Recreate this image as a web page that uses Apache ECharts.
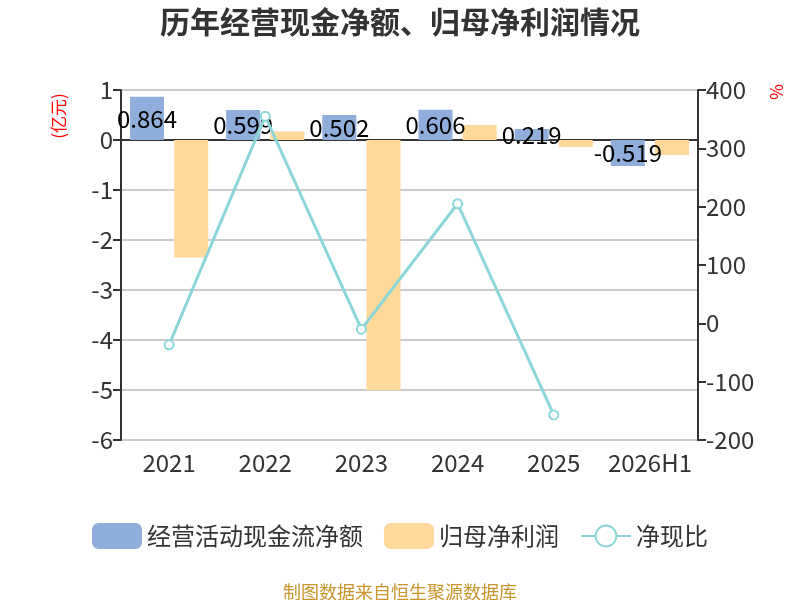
<!DOCTYPE html>
<html>
<head>
<meta charset="utf-8">
<title>历年经营现金净额、归母净利润情况</title>
<script src="https://cdn.jsdelivr.net/npm/echarts@6/dist/echarts.min.js"></script>
<style>
	html, body { margin: 0; padding: 0; background: #fff; }
	#main { width: 800px; height: 600px; }
</style>
</head>
<body>
<div id="main"></div>
<script type="text/javascript">
	// 数据
	var categories = ['2021', '2022', '2023', '2024', '2025', '2026H1'];
	var cashFlow = [0.864, 0.599, 0.502, 0.606, 0.219, -0.519];   // 经营活动现金流净额（亿元）
	var netProfit = [-2.35, 0.17, -5.0, 0.30, -0.14, -0.30];      // 归母净利润（亿元）
	var cashRatio = [-36.8, 355, -10, 205, -157, null];           // 净现比（%）
	var leftTicks = [-6, 1, 1];    // min, max, interval
	var rightTicks = [-200, 400, 100];

	var font = 'Noto Sans CJK SC';
	var myChart = echarts.init(document.getElementById('main'));
	var option = {
		textStyle : { fontFamily : font },
		title : [ {
			text : '历年经营现金净额、归母净利润情况',
			left : 'center',
			top : 2,
			textStyle : {
				fontSize : 30,
				fontWeight : 'bold',
				color : '#333'
			}
		}, {
			text : '制图数据来自恒生聚源数据库',
			left : 'center',
			top : 578,
			textStyle : {
				fontSize : 18,
				fontWeight : 'normal',
				color : '#c9952c'
			}
		} ],
		legend : {
			top : 518,
			left : 'center',
			itemWidth : 50,
			itemHeight : 26,
			itemGap : 21,
			textStyle : {
				fontSize : 24,
				color : '#333'
			},
			data : [
				{ name : '经营活动现金流净额', icon : 'roundRect' },
				{ name : '归母净利润', icon : 'roundRect' },
				{ name : '净现比' }
			]
		},
		grid : {
			left : 121,
			right : 102,
			top : 90,
			bottom : 160
		},
		graphic : [ {
			type : 'text',
			x : 59,
			y : 116,
			rotation : Math.PI / 2,
			style : {
				text : '(亿元)',
				fill : '#f00',
				font : '17px "Noto Sans CJK SC"',
				align : 'center',
				verticalAlign : 'middle'
			}
		}, {
			type : 'text',
			x : 777,
			y : 92,
			rotation : Math.PI / 2,
			style : {
				text : '%',
				fill : '#f00',
				font : '17px "Noto Sans CJK SC"',
				align : 'center',
				verticalAlign : 'middle'
			}
		} ],
		xAxis : [ {
			type : 'category',
			data : categories,
			axisLine : { show : false },
			axisTick : { show : false },
			axisLabel : {
				interval : 0,
				fontSize : 24,
				color : '#333',
				margin : 11
			}
		}, {
			type : 'category',
			data : categories,
			position : 'bottom',
			axisLine : {
				onZero : true,
				onZeroAxisIndex : 0,
				lineStyle : { color : '#333', width : 2 }
			},
			axisTick : {
				interval : 0,
				length : 8,
				lineStyle : { color : '#333', width : 2 }
			},
			axisLabel : { show : false },
			splitLine : { show : false }
		} ],
		yAxis : [ {
			type : 'value',
			min : leftTicks[0],
			max : leftTicks[1],
			interval : leftTicks[2],
			axisLine : {
				show : true,
				lineStyle : { color : '#333', width : 2 }
			},
			axisTick : {
				show : true,
				length : 8,
				lineStyle : { color : '#333', width : 2 }
			},
			axisLabel : {
				fontSize : 24,
				color : '#333',
				margin : 8
			},
			splitLine : {
				lineStyle : { color : '#ccc', width : 2 }
			}
		}, {
			type : 'value',
			min : rightTicks[0],
			max : rightTicks[1],
			interval : rightTicks[2],
			position : 'right',
			axisLine : {
				show : true,
				lineStyle : { color : '#333', width : 2 }
			},
			axisTick : {
				show : true,
				length : 8,
				lineStyle : { color : '#333', width : 2 }
			},
			axisLabel : {
				fontSize : 24,
				color : '#333',
				margin : 8
			},
			splitLine : { show : false }
		} ],
		series : [ {
			name : '经营活动现金流净额',
			type : 'bar',
			barWidth : 34,
			barGap : '30%',
			itemStyle : { color : '#8faedc' },
			label : {
				show : true,
				position : 'inside',
				color : '#000',
				fontSize : 24
			},
			data : cashFlow
		}, {
			name : '归母净利润',
			type : 'bar',
			barWidth : 34,
			barGap : '30%',
			itemStyle : { color : '#ffd999' },
			data : netProfit
		}, {
			name : '净现比',
			type : 'line',
			yAxisIndex : 1,
			symbol : 'emptyCircle',
			symbolSize : 9,
			z : 5,
			itemStyle : { color : '#8cd5d9' },
			lineStyle : { color : '#8cd5d9', width : 3 },
			data : cashRatio
		} ]
	};
	myChart.setOption(option);
</script>
</body>
</html>
